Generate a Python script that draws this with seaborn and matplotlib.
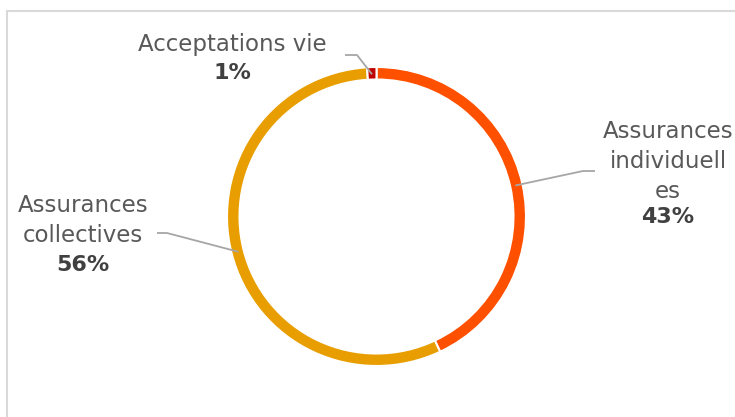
import numpy as np
import seaborn as sns
import matplotlib.pyplot as plt
from matplotlib.patches import Rectangle

# data (order as drawn clockwise from 12 o'clock)
labels = ["Assurances\nindividuell\nes", "Assurances\ncollectives", "Acceptations vie"]
values = [43, 56, 1]
colors = ["#FF5000", "#E89E00", "#C00000"]

W, H = 735, 417


def main():
    sns.set_theme(style="white")
    plt.rcParams['font.family'] = ['DejaVu Sans']

    fig = plt.figure(figsize=(W / 100, H / 100), dpi=100)
    ax = fig.add_axes([0, 0, 1, 1])

    # chart frame
    fig.patches.append(Rectangle((7 / W, -0.05), 1.1, (H - 11) / H + 0.05,
                                 transform=fig.transFigure, fill=False,
                                 edgecolor="#D9D9D9", linewidth=1.5))

    cx, cy, r, ring = 376.5, H - 216.5, 149.5, 12.5
    wedges, _ = ax.pie(values, colors=colors, startangle=90, counterclock=False,
                       center=(cx, cy), radius=r, frame=True,
                       wedgeprops=dict(width=ring, edgecolor="white", linewidth=1.5))
    ax.set_xlim(0, W)
    ax.set_ylim(0, H)
    ax.axis("off")

    # label boxes: text centre x, top line y (pixels from top), elbow points
    text_pos = [(668, 131), (83, 205), (232, 44)]
    elbows = [[(595, 171), (583, 171)], [(157, 233), (167, 233)], [(345, 55), (357, 55)]]
    total = sum(values)
    start = 0.0
    for lab, v, (tx, ty), elb in zip(labels, values, text_pos, elbows):
        mid = np.deg2rad((start + v / 2) / total * 360)
        start += v
        rr = r - ring / 2 - 1
        ex, ey = cx + rr * np.sin(mid), cy + rr * np.cos(mid)
        xs = [p[0] for p in elb] + [ex]
        ys = [H - p[1] for p in elb] + [ey]
        ax.plot(xs, ys, color="#A6A6A6", linewidth=1.3, solid_capstyle="butt")

        lines = lab.split("\n")
        for i, line in enumerate(lines):
            ax.text(tx, H - ty - i * 30, line, ha="center", va="center",
                    fontsize=16.5, color="#595959")
        dy = 26 if len(lines) == 3 else 30 if len(lines) == 2 else 29
        ax.text(tx, H - ty - (len(lines) - 1) * 30 - dy,
                f"{v}%", ha="center", va="center", fontsize=16,
                fontweight="bold", color="#404040")

    fig.savefig("out.png", dpi=100)


if __name__ == "__main__":
    main()
